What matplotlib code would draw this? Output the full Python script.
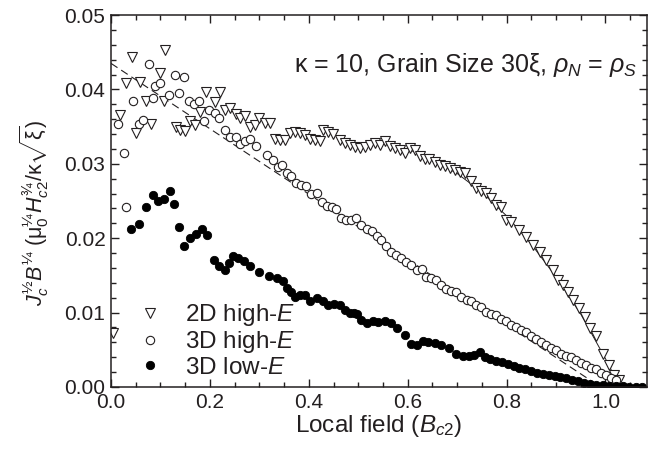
import numpy as np
import matplotlib.pyplot as plt
from matplotlib.ticker import MultipleLocator

plt.rcParams['font.family'] = ['Liberation Sans', 'DejaVu Sans']
plt.rcParams['mathtext.fontset'] = 'custom'
plt.rcParams['mathtext.rm'] = 'Liberation Sans'
plt.rcParams['mathtext.it'] = 'Liberation Sans:italic'
plt.rcParams['mathtext.sf'] = 'Liberation Sans'

INK = '#231f20'

# 2D high-E (open down triangles)
tri_x = [0.005, 0.018, 0.030, 0.042, 0.050, 0.059, 0.071, 0.080, 0.100, 0.109, 0.107,
         0.131, 0.139, 0.149, 0.160, 0.170, 0.180, 0.192, 0.210, 0.220, 0.230, 0.240,
         0.253, 0.261, 0.271, 0.281, 0.291, 0.299, 0.311, 0.321, 0.331, 0.341, 0.352,
         0.362, 0.372, 0.382, 0.392, 0.402, 0.412, 0.422, 0.429, 0.439, 0.449, 0.463,
         0.473, 0.483, 0.493, 0.503, 0.513, 0.523, 0.533, 0.543, 0.554, 0.564, 0.574,
         0.584, 0.594, 0.604, 0.614, 0.624, 0.634, 0.644, 0.655, 0.665, 0.675, 0.685,
         0.695, 0.705, 0.715, 0.729, 0.739, 0.749, 0.759, 0.769, 0.779, 0.789, 0.799,
         0.809, 0.826, 0.840, 0.853, 0.867, 0.880, 0.894, 0.904, 0.914, 0.924, 0.934,
         0.947, 0.958, 0.968, 0.981, 0.995, 1.008, 1.018, 1.028]
tri_y = [0.0072, 0.0366, 0.0409, 0.0443, 0.0341, 0.0410, 0.0385, 0.0354, 0.0422, 0.0453, 0.0385,
         0.0349, 0.0346, 0.0344, 0.0358, 0.0352, 0.0370, 0.0396, 0.0383, 0.0397, 0.0372, 0.0375,
         0.0367, 0.0362, 0.0364, 0.0349, 0.0352, 0.0362, 0.0355, 0.0355, 0.0334, 0.0332, 0.0332,
         0.0341, 0.0343, 0.0341, 0.0339, 0.0334, 0.0332, 0.0330, 0.0345, 0.0343, 0.0340, 0.0332,
         0.0328, 0.0325, 0.0322, 0.0321, 0.0323, 0.0325, 0.0328, 0.0325, 0.0330, 0.0324, 0.0321,
         0.0319, 0.0314, 0.0321, 0.0319, 0.0310, 0.0307, 0.0306, 0.0303, 0.0298, 0.0297, 0.0294,
         0.0292, 0.0289, 0.0287, 0.0277, 0.0267, 0.0264, 0.0261, 0.0254, 0.0245, 0.0242, 0.0225,
         0.0222, 0.0211, 0.0202, 0.0191, 0.0182, 0.0171, 0.0157, 0.0144, 0.0137, 0.0128, 0.0117,
         0.0106, 0.0094, 0.0079, 0.0068, 0.0045, 0.0030, 0.0016, 0.0009]

# 3D high-E (open circles)
oc_x = [0.015, 0.027, 0.030, 0.044, 0.057, 0.065, 0.077, 0.084, 0.089, 0.099, 0.118,
        0.129, 0.138, 0.147, 0.158, 0.168, 0.178, 0.188, 0.199, 0.210, 0.219, 0.230,
        0.240, 0.253, 0.261, 0.271, 0.282, 0.293, 0.315, 0.328, 0.337, 0.345, 0.355,
        0.365, 0.375, 0.385, 0.395, 0.405, 0.416, 0.426, 0.436, 0.446, 0.456, 0.466,
        0.476, 0.486, 0.496, 0.506, 0.517, 0.527, 0.537, 0.547, 0.557, 0.567, 0.577,
        0.587, 0.597, 0.607, 0.618, 0.628, 0.638, 0.648, 0.658, 0.668, 0.678, 0.688,
        0.698, 0.708, 0.719, 0.729, 0.739, 0.749, 0.759, 0.769, 0.779, 0.789, 0.799,
        0.809, 0.820, 0.830, 0.840, 0.850, 0.860, 0.870, 0.880, 0.890, 0.900, 0.911,
        0.921, 0.931, 0.941, 0.951, 0.961, 0.971, 0.981, 0.991, 1.001, 1.012, 1.022]
oc_y = [0.0353, 0.0314, 0.0242, 0.0385, 0.0354, 0.0359, 0.0434, 0.0389, 0.0404, 0.0408, 0.0392,
        0.0419, 0.0395, 0.0417, 0.0384, 0.0381, 0.0384, 0.0357, 0.0372, 0.0368, 0.0361, 0.0346,
        0.0336, 0.0336, 0.0327, 0.0330, 0.0333, 0.0324, 0.0312, 0.0305, 0.0296, 0.0298, 0.0287,
        0.0284, 0.0274, 0.0272, 0.0270, 0.0260, 0.0261, 0.0249, 0.0243, 0.0242, 0.0239, 0.0227,
        0.0225, 0.0224, 0.0227, 0.0218, 0.0212, 0.0209, 0.0203, 0.0198, 0.0189, 0.0182, 0.0177,
        0.0173, 0.0168, 0.0164, 0.0157, 0.0159, 0.0148, 0.0146, 0.0144, 0.0137, 0.0132, 0.0129,
        0.0128, 0.0121, 0.0117, 0.0115, 0.0110, 0.0107, 0.0101, 0.0098, 0.0097, 0.0092, 0.0089,
        0.0083, 0.0081, 0.0077, 0.0074, 0.0068, 0.0064, 0.0061, 0.0056, 0.0052, 0.0050, 0.0044,
        0.0042, 0.0040, 0.0036, 0.0032, 0.0030, 0.0026, 0.0024, 0.0019, 0.0016, 0.0012, 0.0009]

# 3D low-E (filled circles)
fc_x = [0.040, 0.057, 0.071, 0.084, 0.096, 0.108, 0.119, 0.127, 0.137, 0.148, 0.160,
        0.172, 0.184, 0.195, 0.208, 0.219, 0.230, 0.239, 0.247, 0.257, 0.269, 0.282,
        0.300, 0.320, 0.336, 0.348, 0.355, 0.365, 0.372, 0.382, 0.392, 0.403, 0.416,
        0.428, 0.439, 0.451, 0.463, 0.474, 0.483, 0.491, 0.498, 0.505, 0.517, 0.529,
        0.540, 0.554, 0.566, 0.578, 0.594, 0.607, 0.619, 0.631, 0.642, 0.655, 0.668,
        0.684, 0.698, 0.712, 0.724, 0.735, 0.747, 0.756, 0.767, 0.779, 0.791, 0.803,
        0.814, 0.826, 0.838, 0.850, 0.861, 0.873, 0.885, 0.897, 0.908, 0.921, 0.933,
        0.944, 0.956, 0.968, 0.981, 0.995, 1.008, 1.022, 1.035, 1.048, 1.062, 1.073]
fc_y = [0.0212, 0.0219, 0.0242, 0.0258, 0.0250, 0.0253, 0.0263, 0.0246, 0.0215, 0.0189, 0.0200,
        0.0206, 0.0213, 0.0204, 0.0171, 0.0162, 0.0157, 0.0167, 0.0176, 0.0174, 0.0170, 0.0163,
        0.0154, 0.0149, 0.0147, 0.0142, 0.0133, 0.0127, 0.0121, 0.0124, 0.0124, 0.0116, 0.0119,
        0.0115, 0.0110, 0.0112, 0.0110, 0.0103, 0.0099, 0.0100, 0.0098, 0.0090, 0.0086, 0.0089,
        0.0088, 0.0089, 0.0086, 0.0079, 0.0070, 0.0058, 0.0057, 0.0062, 0.0060, 0.0059, 0.0056,
        0.0053, 0.0044, 0.0042, 0.0042, 0.0043, 0.0047, 0.0040, 0.0037, 0.0035, 0.0033, 0.0031,
        0.0028, 0.0026, 0.0024, 0.0022, 0.0019, 0.0018, 0.0016, 0.0015, 0.0013, 0.0012, 0.0009,
        0.0008, 0.0006, 0.0004, 0.0003, 0.0002, 0.0001, 0.0001, 0.0001, 0.0000, 0.0000, 0.0000]

# fits: dashed line for 3D high-E, thin curve for 2D high-E
fit3d_x = [0.0, 0.99]
fit3d_y = [0.0435, 0.0]
fit2d_x = [0.60, 0.65, 0.70, 0.75, 0.80, 0.85, 0.90, 0.95, 1.00, 1.02]
fit2d_y = [0.0320, 0.0305, 0.0287, 0.0262, 0.0230, 0.0192, 0.0148, 0.0098, 0.0038, 0.0012]

fig = plt.figure(figsize=(6.51, 4.55), dpi=100)
ax = fig.add_axes([0.1705, 0.1495, 0.8234, 0.8175])

ax.plot(fit3d_x, fit3d_y, color=INK, lw=0.8, dashes=(7, 4))
ax.plot(fit2d_x, fit2d_y, color=INK, lw=0.7)

ax.plot(tri_x, tri_y, 'v', ms=7, mfc='white', mec=INK, mew=0.8, ls='none', label='2D high-$E$')
ax.plot(oc_x, oc_y, 'o', ms=6, mfc='white', mec=INK, mew=0.8, ls='none', label='3D high-$E$')
ax.plot(fc_x, fc_y, 'o', ms=6, mfc='black', mec='black', mew=0.6, ls='none', label='3D low-$E$')

ax.set_xlim(0, 1.084)
ax.set_ylim(0, 0.05)
ax.xaxis.set_major_locator(MultipleLocator(0.2))
ax.xaxis.set_minor_locator(MultipleLocator(0.05))
ax.yaxis.set_major_locator(MultipleLocator(0.01))
ax.yaxis.set_minor_locator(MultipleLocator(0.002))
ax.xaxis.set_major_formatter(plt.FormatStrFormatter('%.1f'))
ax.yaxis.set_major_formatter(plt.FormatStrFormatter('%.2f'))
ax.tick_params(which='both', direction='in', top=True, right=True, colors=INK,
               labelsize=15, width=1)
ax.tick_params(which='major', length=6, pad=4)
ax.tick_params(which='minor', length=3.5)
for s in ax.spines.values():
    s.set_linewidth(1.1)
    s.set_color(INK)

ax.set_xlabel(r'Local field ($B_{c2}$)', fontsize=17.5, color=INK, labelpad=1)
ax.set_ylabel(r'$J_c^{½}B^{¼}\ (\mathrm{μ}_0^{¼}H_{c2}^{¾}/\mathrm{κ}\sqrt{\mathrm{ξ}})$',
              fontsize=15.5, color=INK)
ax.yaxis.set_label_coords(-0.112, 0.47)

ax.text(0.981, 0.847, r'κ = 10, Grain Size 30ξ, $\rho_N$ = $\rho_S$', transform=ax.transAxes,
        ha='right', va='baseline', fontsize=18, color=INK)

leg = ax.legend(loc='upper left', bbox_to_anchor=(0.0455, 0.228), frameon=False, fontsize=17.5,
                handletextpad=0.85, borderaxespad=0, borderpad=0, labelspacing=0.05,
                handlelength=1.2, labelcolor=INK)

fig.savefig('out.png', dpi=100)
